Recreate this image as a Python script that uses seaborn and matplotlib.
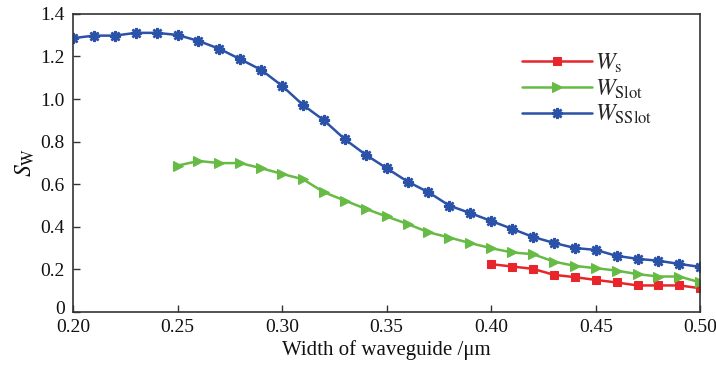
import numpy as np
import pandas as pd
import matplotlib
matplotlib.use("Agg")
import matplotlib.pyplot as plt
import matplotlib.transforms as mtransforms
import seaborn as sns
from matplotlib.ticker import FixedLocator, FuncFormatter

# Waveguide width (um) for each series
width_s = [0.40, 0.41, 0.42, 0.43, 0.44, 0.45, 0.46, 0.47, 0.48, 0.49, 0.50]
width_slot = [0.25, 0.26, 0.27, 0.28, 0.29, 0.30, 0.31, 0.32, 0.33, 0.34, 0.35,
              0.36, 0.37, 0.38, 0.39, 0.40, 0.41, 0.42, 0.43, 0.44, 0.45, 0.46,
              0.47, 0.48, 0.49, 0.50]
width_sslot = [0.20, 0.21, 0.22, 0.23, 0.24, 0.25, 0.26, 0.27, 0.28, 0.29, 0.30,
               0.31, 0.32, 0.33, 0.34, 0.35, 0.36, 0.37, 0.38, 0.39, 0.40, 0.41,
               0.42, 0.43, 0.44, 0.45, 0.46, 0.47, 0.48, 0.49, 0.50]

# Sensitivity S_W
sw_s = [0.224, 0.213, 0.202, 0.174, 0.163, 0.150, 0.138, 0.124, 0.124, 0.124, 0.111]
sw_slot = [0.687, 0.709, 0.699, 0.699, 0.675, 0.648, 0.623, 0.562, 0.523, 0.484,
           0.448, 0.413, 0.374, 0.349, 0.323, 0.299, 0.279, 0.271, 0.236, 0.216,
           0.205, 0.194, 0.177, 0.166, 0.166, 0.138]
sw_sslot = [1.286, 1.298, 1.298, 1.311, 1.311, 1.301, 1.273, 1.236, 1.187, 1.137,
            1.062, 0.972, 0.900, 0.811, 0.738, 0.675, 0.612, 0.562, 0.499, 0.464,
            0.427, 0.390, 0.352, 0.324, 0.300, 0.291, 0.263, 0.249, 0.240, 0.225,
            0.211]

labels = [r"$W_{\rm s}$", r"$W_{\rm Slot}$", r"$W_{\rm SSlot}$"]
colors = ["#e8252b", "#66bb44", "#2a52a8"]

sns.set_theme(style="white")
plt.rcParams["font.family"] = ["Liberation Serif"]
plt.rcParams["mathtext.fontset"] = "stix"

fig = plt.figure(figsize=(7.16, 3.66), dpi=100)
ax = fig.add_axes([0.102, 0.148, 0.876, 0.814])

series = [
    (width_s, sw_s, labels[0], colors[0], "s", 5.5, dict()),
    (width_slot, sw_slot, labels[1], colors[1], ">", 7.5, dict()),
    (width_sslot, sw_sslot, labels[2], colors[2], (8, 2, 0), 8, dict(markeredgewidth=1.8)),
]
for xs, ys, lab, col, mk, ms, extra in series:
    df = pd.DataFrame({"w": xs, "sw": ys})
    sns.lineplot(data=df, x="w", y="sw", ax=ax, color=col, marker=mk,
                 markersize=ms, markeredgecolor=col, linewidth=1.8,
                 label=lab, **extra)

ax.set_xlim(0.20, 0.50)
ax.set_ylim(0, 1.4)
ax.xaxis.set_major_locator(FixedLocator(np.arange(0.20, 0.501, 0.05)))
ax.yaxis.set_major_locator(FixedLocator(np.arange(0, 1.41, 0.2)))
ax.xaxis.set_major_formatter(FuncFormatter(lambda v, p: f"{v:.2f}"))
ax.yaxis.set_major_formatter(FuncFormatter(lambda v, p: "0" if abs(v) < 1e-9 else f"{v:.1f}"))

ax.tick_params(axis="both", direction="in", length=5, width=1, colors="#333333",
               labelsize=14, labelcolor="#111111", bottom=True, left=True,
               top=False, right=False)
ax.tick_params(axis="x", pad=5)
ax.tick_params(axis="y", pad=6)
for sp in ax.spines.values():
    sp.set_color("#333333")
    sp.set_linewidth(1.2)

# nudge the "0" label up so it clears the first x tick label
zero_lab = ax.yaxis.get_major_ticks()[0].label1
zero_lab.set_transform(zero_lab.get_transform() +
                       mtransforms.ScaledTranslation(0, 3 / 72, fig.dpi_scale_trans))

ax.set_xlabel("Width of waveguide /μm", fontsize=15, labelpad=3, color="#111111")
ax.set_ylabel(r"$S_{\rm W}$", fontsize=17, labelpad=2, color="#111111")

leg = ax.legend(loc="upper left", bbox_to_anchor=(0.70, 0.905), frameon=False,
                handlelength=3.0, fontsize=17, labelspacing=0.1,
                handletextpad=0.1, borderaxespad=0)

fig.savefig("out.png", dpi=100)
